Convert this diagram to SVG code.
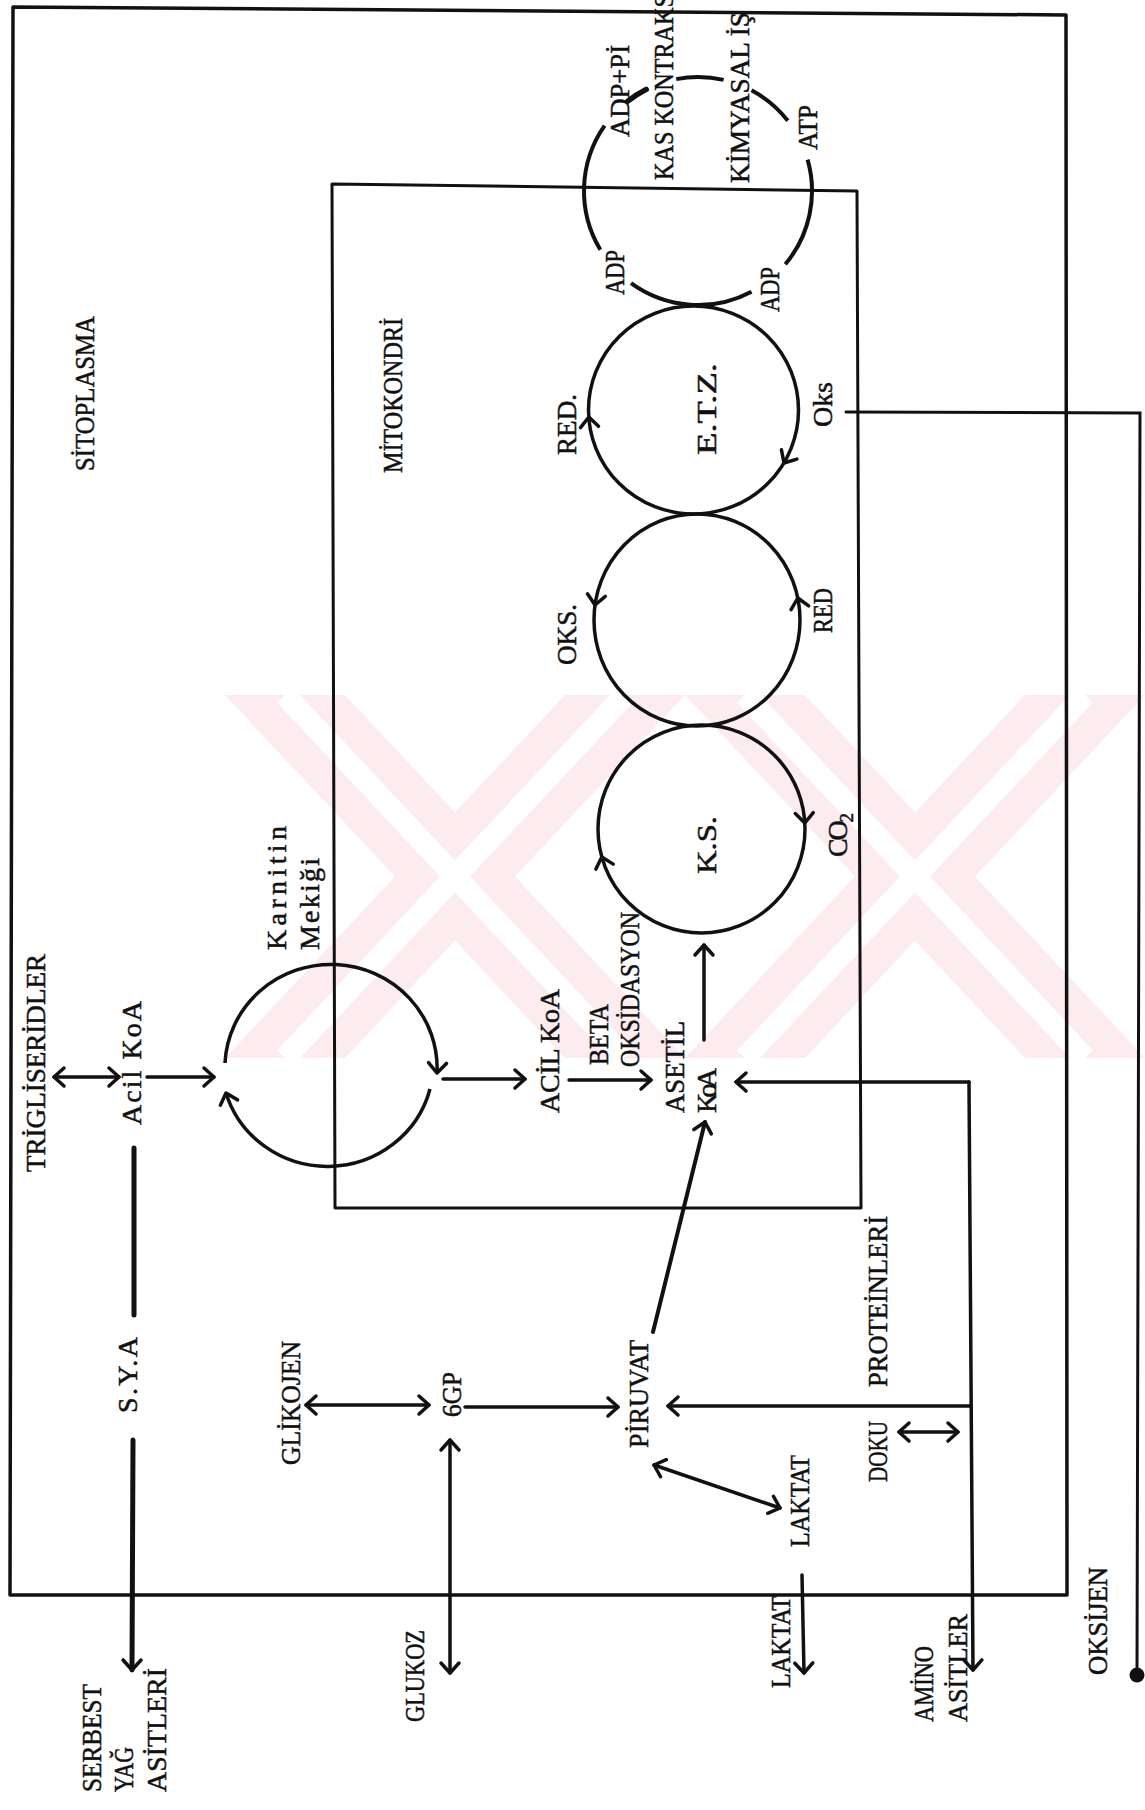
<svg xmlns="http://www.w3.org/2000/svg" width="1145" height="1810" viewBox="0 0 1145 1810">
<defs>
<style>
.t{font-family:"Liberation Serif","Times New Roman",serif;font-size:28px;fill:#111;stroke:#111;stroke-width:0.5}
.box{fill:none;stroke:#111;stroke-width:3.5;stroke-linejoin:round}
.cyc{fill:none;stroke:#111;stroke-width:3.5}
.ln{fill:none;stroke:#111;stroke-width:3.5;stroke-linecap:round}
.ah{fill:none;stroke:#111;stroke-width:3.5;stroke-linecap:round;stroke-linejoin:round}
.wm{fill:#fcebef;stroke:none}
.wms{fill:none;stroke:#fff;stroke-width:22}
</style>
<marker id="arr" viewBox="-13 -12 16 24" refX="0" refY="0" markerWidth="16" markerHeight="24" markerUnits="userSpaceOnUse" orient="auto-start-reverse">
<path d="M-10,-9 L0,0 L-10,9" fill="none" stroke="#111" stroke-width="3.5" stroke-linecap="round" stroke-linejoin="round"/>
</marker>
<path id="chev" d="M-10,-9 L0,0 L-10,9"/>
<clipPath id="wmclip"><rect x="225" y="695" width="920" height="363"/></clipPath>
</defs>
<rect width="1145" height="1810" fill="#fff"/>

<g clip-path="url(#wmclip)">
<polygon class="wm" points="225,695 345,695 685,1058 565,1058"/>
<polygon class="wm" points="565,695 685,695 345,1058 225,1058"/>
<polygon class="wm" points="685,695 805,695 1145,1058 1025,1058"/>
<polygon class="wm" points="1025,695 1145,695 805,1058 685,1058"/>
<path class="wms" d="M285,695 L625,1058 M625,695 L285,1058 M745,695 L1085,1058 M1085,695 L745,1058"/>
</g>

<g id="sitoplasma">
<path class="box" d="M13,7 L1066,15 L1067,1595 L10,1595 Z"/>
<text class="t" transform="translate(94.3,471) rotate(-90)" textLength="155" lengthAdjust="spacingAndGlyphs">SİTOPLASMA</text>
</g>

<g id="mitokondri">
<path class="box" style="stroke-width:3" d="M332,184 L857,191 L861,1208 L335,1208 Z"/>
<text class="t" transform="translate(402.3,473) rotate(-90)" textLength="155" lengthAdjust="spacingAndGlyphs">MİTOKONDRİ</text>
</g>

<g id="kas-dongusu">
<g class="cyc" style="stroke-width:4">
<path d="M627.8,101.2 A114,114 0 0 1 646.2,89.4" style="stroke-width:5.5;stroke-linecap:round"/>
<path d="M676.2,79.1 A114,114 0 0 1 723.6,79.9"/>
<path d="M751.5,90.3 A114,114 0 0 1 787.8,120.8"/>
<path d="M807.6,159.6 A114,114 0 0 1 785.3,264.3"/>
<path d="M751.5,291.7 A114,114 0 0 1 631.0,283.2"/>
<path d="M600.3,249.7 A114,114 0 0 1 604.6,125.6"/>
</g>
<text class="t" transform="translate(629.3,137) rotate(-90)" textLength="92" lengthAdjust="spacingAndGlyphs">ADP+Pİ</text>
<text class="t" transform="translate(673.3,180) rotate(-90)" textLength="186" lengthAdjust="spacingAndGlyphs">KAS KONTRAKS</text>
<text class="t" transform="translate(749.3,183) rotate(-90)" textLength="171" lengthAdjust="spacingAndGlyphs">KİMYASAL İŞ</text>
<text class="t" transform="translate(817.3,150) rotate(-90)" textLength="45" lengthAdjust="spacingAndGlyphs">ATP</text>
<text class="t" transform="translate(624.3,295) rotate(-90)" textLength="45" lengthAdjust="spacingAndGlyphs">ADP</text>
<text class="t" transform="translate(779.3,312) rotate(-90)" textLength="45" lengthAdjust="spacingAndGlyphs">ADP</text>
</g>

<g id="etz">
<ellipse class="cyc" cx="693.5" cy="410" rx="105" ry="104"/>
<use href="#chev" class="ah" transform="translate(588.8,417) rotate(-94)"/>
<use href="#chev" class="ah" transform="translate(784,463) rotate(121)"/>
<text class="t" transform="translate(576.3,455) rotate(-90)" textLength="61" lengthAdjust="spacingAndGlyphs">RED.</text>
<text class="t" transform="translate(716.3,455) rotate(-90)" textLength="92" lengthAdjust="spacingAndGlyphs">E.T.Z.</text>
<text class="t" transform="translate(832.3,427) rotate(-90)" textLength="45" lengthAdjust="spacing">Oks</text>
</g>

<g id="oks-red">
<ellipse class="cyc" cx="697" cy="620" rx="103" ry="106"/>
<use href="#chev" class="ah" transform="translate(595,605) rotate(98)"/>
<use href="#chev" class="ah" transform="translate(797.8,598) rotate(-102)"/>
<text class="t" transform="translate(576.3,665) rotate(-90)" textLength="61" lengthAdjust="spacingAndGlyphs">OKS.</text>
<text class="t" transform="translate(832.3,633) rotate(-90)" textLength="45" lengthAdjust="spacingAndGlyphs">RED</text>
</g>

<g id="ks">
<ellipse class="cyc" cx="701.5" cy="829" rx="103.5" ry="104"/>
<use href="#chev" class="ah" transform="translate(601.8,857) rotate(-106)"/>
<use href="#chev" class="ah" transform="translate(804.8,823) rotate(87)"/>
<text class="t" transform="translate(716.3,874) rotate(-90)" textLength="58" lengthAdjust="spacingAndGlyphs">K.S.</text>
<text class="t" transform="translate(847.3,857) rotate(-90)" textLength="44" lengthAdjust="spacing">CO<tspan font-size="19" dy="6">2</tspan></text>
</g>

<g id="karnitin">
<path class="cyc" d="M225,1063 A106,103.5 0 0 1 437,1073" marker-end="url(#arr)"/>
<path class="cyc" d="M430,1089 A106,103.5 0 0 1 226,1093" marker-end="url(#arr)"/>
<text class="t" transform="translate(286.3,950) rotate(-90)" textLength="124" lengthAdjust="spacing">Karnitin</text>
<text class="t" transform="translate(319.3,950) rotate(-90)" textLength="92" lengthAdjust="spacing">Mekiği</text>
</g>

<g id="trigliseridler"><text class="t" transform="translate(45.3,1172) rotate(-90)" textLength="218" lengthAdjust="spacingAndGlyphs">TRİGLİSERİDLER</text></g>
<g id="acil-koa-sito"><text class="t" transform="translate(141.3,1125) rotate(-90)" textLength="124" lengthAdjust="spacing">Acil KoA</text></g>
<g id="acil-koa-mito"><text class="t" transform="translate(559.3,1113) rotate(-90)" textLength="124" lengthAdjust="spacing">ACİL KoA</text></g>
<g id="beta-oksidasyon">
<text class="t" transform="translate(608.3,1065) rotate(-90)" textLength="61" lengthAdjust="spacingAndGlyphs">BETA</text>
<text class="t" transform="translate(639.3,1067) rotate(-90)" textLength="155" lengthAdjust="spacingAndGlyphs">OKSİDASYON</text>
</g>
<g id="asetil-koa">
<text class="t" transform="translate(684.3,1113) rotate(-90)" textLength="92" lengthAdjust="spacingAndGlyphs">ASETİL</text>
<text class="t" transform="translate(716.3,1113) rotate(-90)" textLength="45" lengthAdjust="spacing">KoA</text>
</g>
<g id="sya"><text class="t" transform="translate(137.3,1413) rotate(-90)" textLength="76" lengthAdjust="spacing">S.Y.A</text></g>
<g id="serbest-yag-asitleri">
<text class="t" transform="translate(101.3,1792) rotate(-90)" textLength="108" lengthAdjust="spacingAndGlyphs">SERBEST</text>
<text class="t" transform="translate(133.3,1792) rotate(-90)" textLength="45" lengthAdjust="spacingAndGlyphs">YAĞ</text>
<text class="t" transform="translate(166.3,1792) rotate(-90)" textLength="124" lengthAdjust="spacingAndGlyphs">ASİTLERİ</text>
</g>
<g id="glikojen"><text class="t" transform="translate(300.3,1465) rotate(-90)" textLength="124" lengthAdjust="spacingAndGlyphs">GLİKOJEN</text></g>
<g id="g6p"><text class="t" transform="translate(461.3,1417) rotate(-90)" textLength="45" lengthAdjust="spacingAndGlyphs">6GP</text></g>
<g id="glukoz"><text class="t" transform="translate(424.3,1722) rotate(-90)" textLength="92" lengthAdjust="spacingAndGlyphs">GLUKOZ</text></g>
<g id="piruvat"><text class="t" transform="translate(648.3,1448) rotate(-90)" textLength="108" lengthAdjust="spacingAndGlyphs">PİRUVAT</text></g>
<g id="laktat-ic"><text class="t" transform="translate(809.3,1547) rotate(-90)" textLength="92" lengthAdjust="spacingAndGlyphs">LAKTAT</text></g>
<g id="laktat-dis"><text class="t" transform="translate(790.3,1688) rotate(-90)" textLength="92" lengthAdjust="spacingAndGlyphs">LAKTAT</text></g>
<g id="doku-proteinleri">
<text class="t" transform="translate(887.3,1482) rotate(-90)" textLength="61" lengthAdjust="spacingAndGlyphs">DOKU</text>
<text class="t" transform="translate(887.3,1387) rotate(-90)" textLength="171" lengthAdjust="spacingAndGlyphs">PROTEİNLERİ</text>
</g>
<g id="amino-asitler">
<text class="t" transform="translate(933.3,1722) rotate(-90)" textLength="76" lengthAdjust="spacingAndGlyphs">AMİNO</text>
<text class="t" transform="translate(967.3,1722) rotate(-90)" textLength="108" lengthAdjust="spacingAndGlyphs">ASİTLER</text>
</g>
<g id="oksijen">
<text class="t" transform="translate(1107.3,1675) rotate(-90)" textLength="108" lengthAdjust="spacingAndGlyphs">OKSİJEN</text>
<circle cx="1137" cy="1675" r="7.5" fill="#111"/>
</g>

<g id="connectors">
<path class="ln" d="M54,1077 L119,1077" marker-start="url(#arr)" marker-end="url(#arr)"/>
<path class="ln" d="M147,1077 L214,1077" marker-end="url(#arr)"/>
<path class="ln" d="M443,1079 L525,1079" marker-end="url(#arr)"/>
<path class="ln" d="M569,1080 L651,1080" marker-end="url(#arr)"/>
<path class="ln" d="M704,1040 L704,945" marker-end="url(#arr)"/>
<path class="ln" style="stroke-width:5" d="M134,1148 L134,1315"/>
<path class="ln" style="stroke-width:5" d="M133,1440 L132,1670" marker-end="url(#arr)"/>
<path class="ln" d="M306,1405 L429,1405" marker-start="url(#arr)" marker-end="url(#arr)"/>
<path class="ln" d="M450,1440 L450,1673" marker-start="url(#arr)" marker-end="url(#arr)"/>
<path class="ln" d="M465,1407 L618,1407" marker-end="url(#arr)"/>
<path class="ln" style="stroke-width:4" d="M653,1332 L705,1122" marker-end="url(#arr)"/>
<path class="ln" d="M654,1465 L780,1508" marker-start="url(#arr)" marker-end="url(#arr)"/>
<path class="ln" d="M802,1575 L804,1673" marker-end="url(#arr)"/>
<path class="ln" d="M969,1082 L736,1082" marker-end="url(#arr)"/>
<path class="ln" d="M970,1406 L668,1406" marker-end="url(#arr)"/>
<path class="ln" d="M969,1082 L973,1670" marker-end="url(#arr)"/>
<path class="ln" d="M899,1432 L958,1432" marker-start="url(#arr)" marker-end="url(#arr)"/>
<path class="ln" style="stroke-width:3" d="M846,412 L1140,413 L1137,1674"/>
</g>
</svg>
